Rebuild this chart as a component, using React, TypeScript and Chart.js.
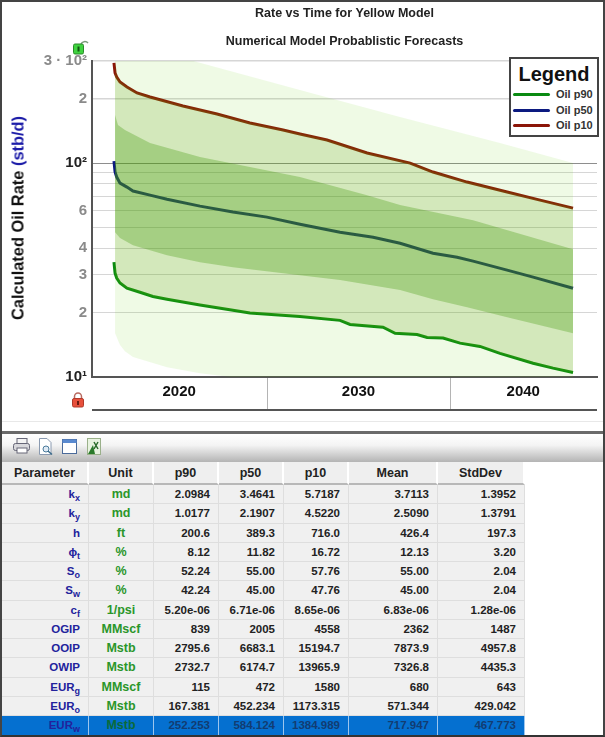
import React, { useEffect, useRef } from "react";
import { Chart, registerables } from "chart.js";

Chart.register(...registerables);

// ---------- chart data ----------
const titleLines = ["Rate vs Time for Yellow Model", "Numerical Model Probablistic Forecasts"];
const yTicks = [10, 20, 30, 40, 50, 60, 70, 80, 90, 100, 200, 300];
const yTickLabels = ["10¹", "2", "3", "4", "", "6", "", "", "", "10²", "2", "3 · 10²"];
const bandLabels = ["2020", "2030", "2040"];
const bandLabelPositions = [2020.2, 2030, 2039];
const bandDividers = [2025, 2035];

const p10Years = [2016.64, 2016.7, 2016.79, 2016.97, 2017.35, 2017.9, 2018.61, 2020.41, 2022.27, 2024.07, 2025.88, 2026.8, 2028.28, 2030.47, 2032.82, 2034.07, 2035.93, 2038.12, 2039.92, 2041.72];
const p10Rates = [293.8, 263.7, 252.6, 239.3, 226.8, 212.6, 203.6, 184.8, 169.6, 153.9, 142.7, 136.7, 128.1, 111.4, 100, 90.8, 81.5, 73.2, 67.1, 61.6];

const p50Years = [2016.64, 2016.7, 2016.79, 2016.97, 2017.35, 2017.68, 2018.61, 2019.54, 2021.34, 2023.14, 2025.0, 2026.8, 2028.99, 2030.8, 2032.27, 2034.07, 2035.39, 2036.26, 2038.12, 2039.54, 2041.72];
const p50Rates = [102.2, 90.8, 86.0, 80.6, 77.2, 74.0, 70.8, 67.8, 62.9, 59.0, 55.9, 51.8, 47.5, 45.0, 42.2, 37.9, 36.3, 34.8, 31.6, 29.3, 26.0];

const p90Years = [2016.64, 2016.7, 2016.79, 2016.97, 2017.35, 2018.06, 2018.77, 2019.54, 2021.34, 2023.14, 2024.07, 2026.8, 2028.99, 2029.54, 2031.34, 2032.0, 2033.2, 2033.75, 2034.62, 2035.55, 2036.64, 2037.73, 2039.54, 2040.63, 2041.72];
const p90Rates = [34.4, 30.6, 29.0, 27.5, 26.0, 24.9, 23.8, 23.1, 21.7, 20.5, 19.9, 19.2, 18.4, 17.6, 17.1, 16.0, 15.8, 15.3, 15.2, 14.4, 13.9, 12.9, 11.6, 11.0, 10.5];

const outerUpperYears = [2016.7, 2018.61, 2021.18, 2026.8, 2032.27, 2037.73, 2041.72];
const outerUpperRates = [419, 341.6, 296.9, 219.6, 164.2, 124, 100];
const outerLowerYears = [2016.7, 2016.97, 2017.24, 2017.68, 2019.54, 2021.34, 2023.14, 2026.8, 2032.27, 2037.73, 2041.72];
const outerLowerRates = [16.0, 14.1, 13.2, 12.4, 11.1, 10.4, 9.97, 9.6, 9.2, 8.7, 8.2];

const innerUpperYears = [2016.7, 2016.86, 2017.24, 2018.61, 2021.34, 2024.07, 2026.8, 2030.47, 2032.27, 2036.26, 2041.72];
const innerUpperRates = [167.7, 150.6, 142.7, 124, 106.7, 95.8, 86.0, 70.8, 63.6, 54.1, 39.6];
const innerLowerYears = [2016.7, 2016.97, 2017.68, 2019.54, 2021.34, 2023.14, 2026.8, 2028.99, 2032.27, 2034.07, 2035.93, 2038.12, 2041.72];
const innerLowerRates = [47.5, 44.6, 41.3, 37.1, 34.4, 32.6, 29.9, 28.4, 25.5, 23.1, 21.2, 19.0, 16.0];

const legendItems = [
  { label: "Oil p90", color: "#0a8a12" },
  { label: "Oil p50", color: "#0c1a80" },
  { label: "Oil p10", color: "#8b1508" },
];

// ---------- table data ----------
const tableHeaders = ["Parameter", "Unit", "p90", "p50", "p10", "Mean", "StdDev"];
const paramNames = [["k", "x"], ["k", "y"], ["h", ""], ["ϕ", "t"], ["S", "o"], ["S", "w"], ["c", "f"], ["OGIP", ""], ["OOIP", ""], ["OWIP", ""], ["EUR", "g"], ["EUR", "o"], ["EUR", "w"]];
const units = ["md", "md", "ft", "%", "%", "%", "1/psi", "MMscf", "Mstb", "Mstb", "MMscf", "Mstb", "Mstb"];
const p90Col = ["2.0984", "1.0177", "200.6", "8.12", "52.24", "42.24", "5.20e-06", "839", "2795.6", "2732.7", "115", "167.381", "252.253"];
const p50Col = ["3.4641", "2.1907", "389.3", "11.82", "55.00", "45.00", "6.71e-06", "2005", "6683.1", "6174.7", "472", "452.234", "584.124"];
const p10Col = ["5.7187", "4.5220", "716.0", "16.72", "57.76", "47.76", "8.65e-06", "4558", "15194.7", "13965.9", "1580", "1173.315", "1384.989"];
const meanCol = ["3.7113", "2.5090", "426.4", "12.13", "55.00", "45.00", "6.83e-06", "2362", "7873.9", "7326.8", "680", "571.344", "717.947"];
const stdCol = ["1.3952", "1.3791", "197.3", "3.20", "2.04", "2.04", "1.28e-06", "1487", "4957.8", "4435.3", "643", "429.042", "467.773"];
const colWidths = [87, 65, 65, 65, 65, 89, 87];

const FONT = "'Liberation Sans', Arial, sans-serif";

const pts = (xs: number[], ys: number[]) => xs.map((x, i) => ({ x, y: ys[i] }));

const band = (data: any[], fill: any, bg: string, order: number) => ({
  data,
  fill,
  backgroundColor: bg,
  borderWidth: 0,
  borderColor: "transparent",
  pointRadius: 0,
  order,
});

const line = (data: any[], color: string) => ({
  data,
  fill: false,
  borderColor: color,
  borderWidth: 3,
  pointRadius: 0,
  tension: 0,
  order: 10,
});

const bandAxisPlugin = {
  id: "bandAxis",
  afterDraw(chart: any) {
    const { ctx, chartArea, scales } = chart;
    ctx.save();
    ctx.strokeStyle = "#b4b4b4";
    ctx.lineWidth = 1;
    bandDividers.forEach((v) => {
      const x = Math.round(scales.x.getPixelForValue(v)) + 0.5;
      ctx.beginPath();
      ctx.moveTo(x, chartArea.bottom + 1);
      ctx.lineTo(x, chartArea.bottom + 32);
      ctx.stroke();
    });
    ctx.strokeStyle = "#555";
    ctx.lineWidth = 2;
    ctx.beginPath();
    ctx.moveTo(chartArea.left, chartArea.bottom + 33);
    ctx.lineTo(chartArea.right, chartArea.bottom + 33);
    ctx.stroke();
    ctx.restore();
  },
};

function OpenLock() {
  return (
    <svg width="18" height="18" style={{ position: "absolute", left: 72, top: 38 }}>
      <path d="M9 6 A4 3.5 0 0 1 16 5" fill="none" stroke="#7a9a7a" strokeWidth="1.5" />
      <rect x="1.5" y="6" width="10" height="10" rx="1.5" fill="#3fd33f" stroke="#2a8a2a" />
      <rect x="5.5" y="8.5" width="2" height="5" fill="#115511" />
    </svg>
  );
}

function ClosedLock() {
  return (
    <svg width="14" height="16" style={{ position: "absolute", left: 71, top: 392 }}>
      <path d="M3.5 7 V4.5 A3.5 3.5 0 0 1 10.5 4.5 V7" fill="none" stroke="#b86a60" strokeWidth="1.5" />
      <rect x="1.5" y="6.5" width="11" height="8.5" rx="1.5" fill="#e8503c" stroke="#b03a2a" />
      <rect x="6" y="9" width="2" height="4" fill="#6a1a10" />
    </svg>
  );
}

function ToolbarIcons() {
  return (
    <>
      <svg width="20" height="18" style={{ position: "absolute", left: 12, top: 437 }}>
        <rect x="5" y="1.5" width="10" height="5" fill="#f4f4f4" stroke="#667" />
        <rect x="1.5" y="6.5" width="16" height="7" rx="2" fill="#d8d8dc" stroke="#667" />
        <rect x="5" y="11" width="10" height="5" fill="#fff" stroke="#667" />
      </svg>
      <svg width="18" height="20" style={{ position: "absolute", left: 37, top: 437 }}>
        <path d="M2.5 1.5 H10 L14 5.5 V17.5 H2.5 Z" fill="#fff" stroke="#8a9ab0" />
        <circle cx="9" cy="12" r="3" fill="#dfeaf5" stroke="#4a7a9a" />
        <path d="M11 14 L15 17.5" stroke="#3a6a8a" strokeWidth="1.5" />
      </svg>
      <svg width="18" height="18" style={{ position: "absolute", left: 61, top: 438 }}>
        <rect x="1.5" y="1.5" width="14" height="14" fill="#fff" stroke="#4a6a9a" />
        <rect x="1.5" y="1.5" width="14" height="3.5" fill="#5a8ad0" />
      </svg>
      <svg width="18" height="20" style={{ position: "absolute", left: 85, top: 437 }}>
        <rect x="2.5" y="1.5" width="13" height="16" fill="#e8f3e0" stroke="#9ab08a" />
        <path d="M3 17 L8 8 L10 17 Z" fill="#2a7a2a" />
        <path d="M9 5 L13 12 M13 5 L9 12" stroke="#2a6a2a" strokeWidth="1.5" />
      </svg>
    </>
  );
}

export default function App() {
  const ref = useRef<HTMLCanvasElement>(null);

  useEffect(() => {
    const chart = new Chart(ref.current as HTMLCanvasElement, {
      type: "line",
      data: {
        datasets: [
          line(pts(p90Years, p90Rates), "#0a8a12"),
          line(pts(p50Years, p50Rates), "#0c1a80"),
          line(pts(p10Years, p10Rates), "#8b1508"),
          band(pts(outerUpperYears, outerUpperRates), "+1", "rgba(95,205,0,0.1)", 5),
          band(pts(outerLowerYears, outerLowerRates), false, "transparent", 5),
          band(pts(p10Years.slice(1), p10Rates.slice(1)), "+1", "rgba(94,160,16,0.2)", 4),
          band(pts(p90Years.slice(1), p90Rates.slice(1)), false, "transparent", 4),
          band(pts(innerUpperYears, innerUpperRates), "+1", "rgba(60,149,0,0.3)", 3),
          band(pts(innerLowerYears, innerLowerRates), false, "transparent", 3),
        ] as any,
      },
      plugins: [bandAxisPlugin],
      options: {
        responsive: false,
        animation: false,
        parsing: false as any,
        normalized: true,
        layout: { padding: { left: 0, right: 8, top: 0, bottom: 0 } },
        plugins: {
          legend: { display: false },
          tooltip: { enabled: false },
          title: {
            display: true,
            text: titleLines,
            color: "#222",
            font: { family: FONT, size: 12.5, weight: "bold", lineHeight: 2.2 },
            padding: { top: 0, bottom: 6 },
            fullSize: false,
          },
        },
        scales: {
          x: {
            type: "linear",
            min: 2015.44,
            max: 2043.03,
            afterBuildTicks: (s: any) => {
              s.ticks = bandLabelPositions.map((value) => ({ value }));
            },
            afterFit: (s: any) => {
              s.height = 53;
            },
            grid: { display: false },
            border: { color: "#555", width: 2 },
            ticks: {
              autoSkip: false,
              maxRotation: 0,
              padding: -2,
              color: "#111",
              font: { family: FONT, size: 15, weight: "bold" },
              callback: (_v: any, i: number) => bandLabels[i],
            },
          },
          y: {
            type: "logarithmic",
            min: 10,
            max: 300,
            afterBuildTicks: (s: any) => {
              s.ticks = yTicks.map((value) => ({ value }));
            },
            afterFit: (s: any) => {
              s.width = 92;
            },
            border: { color: "#555", width: 2 },
            grid: {
              color: (c: any) => (c.tick?.value === 100 ? "#8e8e8e" : "#d6d6d6"),
              lineWidth: (c: any) => (c.tick?.value === 300 || c.tick?.value === 200 ? 1.5 : 1),
              drawTicks: false,
            },
            ticks: {
              autoSkip: false,
              padding: 5,
              color: (c: any) => (c.tick?.value === 100 || c.tick?.value === 10 ? "#222" : "#8a8a8a"),
              font: { family: FONT, size: 15, weight: "bold" },
              callback: (v: any) => yTickLabels[yTicks.indexOf(Number(v))],
            },
          },
        },
      } as any,
    });
    return () => chart.destroy();
  }, []);

  const rowTop = 485;
  const rowH = 19.25;

  const cols = [p90Col, p50Col, p10Col, meanCol, stdCol];

  return (
    <div style={{ position: "absolute", left: 0, top: 0, width: 605, height: 737, overflow: "hidden", background: "#fff", fontFamily: FONT }}>
      <canvas ref={ref} width={605} height={430} style={{ position: "absolute", left: 0, top: 0, width: 605, height: 430, display: "block" }} />

      <div style={{ position: "absolute", left: 18, top: 218, width: 0, height: 0 }}>
        <div style={{ position: "absolute", transform: "translate(-50%,-50%) rotate(-90deg)", whiteSpace: "nowrap", fontSize: 16.4, fontWeight: "bold", color: "#111" }}>
          Calculated Oil Rate <span style={{ color: "#1c1ca8" }}>(stb/d)</span>
        </div>
      </div>

      <OpenLock />
      <ClosedLock />

      {/* legend */}
      <div style={{ position: "absolute", left: 509, top: 57, width: 86, height: 76, border: "2px solid #444", background: "#fff" }}>
        <div style={{ position: "absolute", left: 0, right: 0, top: 3, textAlign: "center", fontSize: 20, fontWeight: "bold", color: "#111", lineHeight: "24px" }}>Legend</div>
        {legendItems.map((it, i) => (
          <div key={it.label}>
            <div style={{ position: "absolute", left: 2, top: 34 + i * 15.5, width: 37, height: 3, background: it.color, borderRadius: 2 }} />
            <div style={{ position: "absolute", left: 45, top: 29 + i * 15.5, fontSize: 11, fontWeight: "bold", color: "#333", lineHeight: "13px", whiteSpace: "nowrap" }}>{it.label}</div>
          </div>
        ))}
      </div>

      {/* frame and separators */}
      <div style={{ position: "absolute", left: 0, top: 421, width: 605, height: 1, background: "#e8e8e8" }} />
      <div style={{ position: "absolute", left: 0, top: 431, width: 605, height: 3, background: "#6a6a6a" }} />
      <div style={{ position: "absolute", left: 0, top: 434, width: 605, height: 28, background: "linear-gradient(#ffffff 0%, #f4f4f4 40%, #b4b4b4 100%)" }} />
      <ToolbarIcons />

      {/* table */}
      <div style={{ position: "absolute", left: 2, top: 462, width: 523 }}>
        <div style={{ display: "flex", height: 23 }}>
          {tableHeaders.map((h, i) => (
            <div key={h} style={{ width: colWidths[i], boxSizing: "border-box", background: "#efefef", borderRight: "2px solid #fff", borderBottom: "2px solid #b8b8b8", textAlign: "center", fontSize: 12.5, fontWeight: "bold", color: "#222", lineHeight: "22px" }}>{h}</div>
          ))}
        </div>
      </div>
      {paramNames.map((p, r) => {
        const sel = r === paramNames.length - 1;
        const cellBase: React.CSSProperties = {
          boxSizing: "border-box",
          height: "100%",
          borderRight: sel ? "1px solid #9cc6ee" : "1px solid #dedede",
          borderBottom: sel ? "none" : "1px solid #dedede",
          background: sel ? "#0570d0" : "#f0f0f0",
          fontSize: 11.5,
          fontWeight: "bold",
          lineHeight: "18px",
          whiteSpace: "nowrap",
        };
        return (
          <div key={r} style={{ position: "absolute", left: 2, top: rowTop + r * rowH, height: rowH, display: "flex" }}>
            <div style={{ ...cellBase, width: colWidths[0], textAlign: "right", paddingRight: 8, color: "#22229c" }}>
              {p[0]}
              {p[1] && <sub style={{ fontSize: 9, lineHeight: 0 }}>{p[1]}</sub>}
            </div>
            <div style={{ ...cellBase, width: colWidths[1], textAlign: "center", fontSize: 12.5, color: sel ? "#0a6a3a" : "#2a962a" }}>{units[r]}</div>
            {cols.map((c, i) => (
              <div key={i} style={{ ...cellBase, width: colWidths[i + 2], textAlign: "right", paddingRight: 8, color: sel ? "#123c72" : "#222" }}>{c[r]}</div>
            ))}
          </div>
        );
      })}

      <div style={{ position: "absolute", left: 0, top: 0, width: 605, height: 737, boxSizing: "border-box", borderTop: "2px solid #444", borderLeft: "2px solid #444", borderRight: "2px solid #444", borderBottom: "2px solid #333", pointerEvents: "none" }} />
    </div>
  );
}
